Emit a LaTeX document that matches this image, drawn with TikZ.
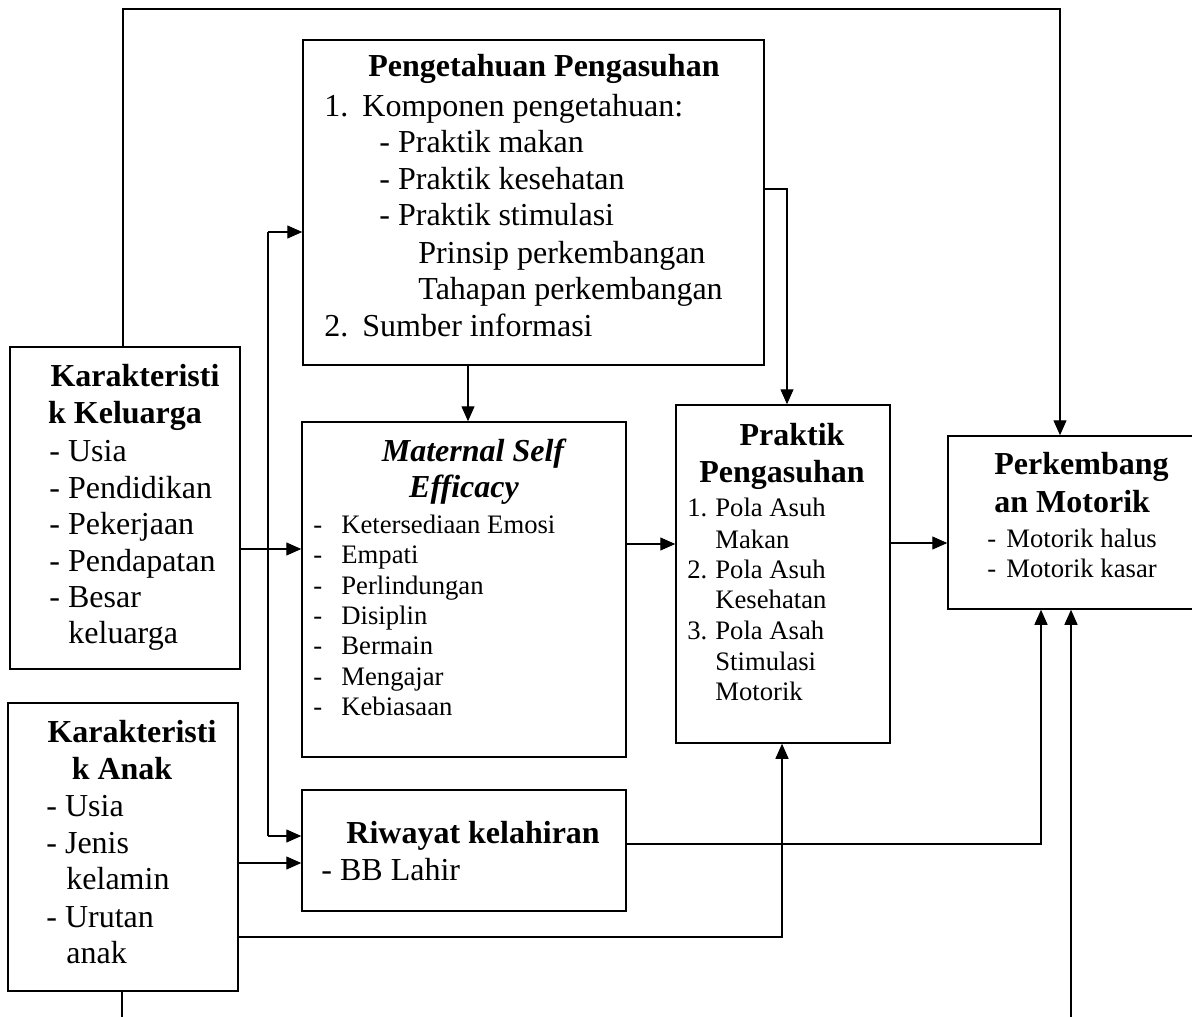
\documentclass[tikz,border=0pt]{standalone}
\usepackage{fontspec}
\setmainfont{Liberation Serif}
\usetikzlibrary{arrows.meta,fit}
\newcommand\bigfnt{\fontsize{16}{18.25}\selectfont}
\newcommand\smallfnt{\fontsize{13.33}{15.2}\selectfont}
\tikzset{
  box/.style={draw, line width=0.75pt, inner sep=0pt, rectangle},
  ln/.style={line width=0.65pt},
  arr/.style={ln, -{Triangle[length=7.5pt,width=6.5pt]}},
  tb/.style={inner sep=0pt, anchor=base west, font=\bigfnt},
  tbb/.style={inner sep=0pt, anchor=base west, font=\bigfnt\bfseries},
  tbc/.style={inner sep=0pt, anchor=base, font=\bigfnt\bfseries},
  ts/.style={inner sep=0pt, anchor=base west, font=\smallfnt},
}
\begin{document}
\begin{tikzpicture}[x=0.5pt,y=-0.5pt]
\useasboundingbox[fill=white] (0,0) rectangle (1192,1016);
% boxes
\node[box, fit={(303,40) (764,365)}] (peng) {};
\node[box, fit={(10,347) (240,669)}] (kel) {};
\node[box, fit={(8,703) (238,991)}] (anak) {};
\node[box, fit={(302,422) (626,757)}] (mse) {};
\node[box, fit={(302,790) (626,911)}] (riw) {};
\node[box, fit={(676,405) (890,743)}] (prak) {};
\node[box, fit={(948,436) (1205,609)}] (perk) {};
% Pengetahuan text
\node[tbc] (pg0) at (544,77) {Pengetahuan Pengasuhan};
\node[tb] (pg1n) at (324,117) {1.};
\node[tb] (pg1) at (362,117) {Komponen pengetahuan:};
\node[tb] (pg2) at (379,153) {- Praktik makan};
\node[tb] (pg3) at (379,190) {- Praktik kesehatan};
\node[tb] (pg4) at (379,226) {- Praktik stimulasi};
\node[tb] (pg5) at (418,263) {Prinsip perkembangan};
\node[tb] (pg6) at (418,299) {Tahapan perkembangan};
\node[tb] (pg7n) at (324,336) {2.};
\node[tb] (pg7) at (362,336) {Sumber informasi};
% Keluarga text
\node[tbc] (kl0) at (135,386) {Karakteristi};
\node[tbc] (kl1) at (125,423) {k Keluarga};
\node[tb] (kl2) at (49,461) {- Usia};
\node[tb] (kl3) at (49,498) {- Pendidikan};
\node[tb] (kl4) at (49,534) {- Pekerjaan};
\node[tb] (kl5) at (49,571) {- Pendapatan};
\node[tb] (kl6) at (49,607) {- Besar};
\node[tb] (kl7) at (68,643) {keluarga};
% Anak text
\node[tbc] (an0) at (132,742) {Karakteristi};
\node[tbc] (an1t) at (122,779) {k Anak};
\node[tb] (an2) at (46,816) {- Usia};
\node[tb] (an3) at (46,853) {- Jenis};
\node[tb] (an4) at (66,889) {kelamin};
\node[tb] (an5) at (46,927) {- Urutan};
\node[tb] (an6) at (66,963) {anak};
% MSE text
\node[tbc, font=\bigfnt\bfseries\itshape] (ms0) at (473,461) {Maternal Self};
\node[tbc, font=\bigfnt\bfseries\itshape] (ms1) at (464,497) {Efficacy};
\node[ts] (ms2d) at (313,533) {-};
\node[ts] (ms2) at (341,533) {Ketersediaan Emosi};
\node[ts] (ms3d) at (313,563) {-};
\node[ts] (ms3) at (341,563) {Empati};
\node[ts] (ms4d) at (313,594) {-};
\node[ts] (ms4) at (341,594) {Perlindungan};
\node[ts] (ms5d) at (313,624) {-};
\node[ts] (ms5) at (341,624) {Disiplin};
\node[ts] (ms6d) at (313,654) {-};
\node[ts] (ms6) at (341,654) {Bermain};
\node[ts] (ms7d) at (313,685) {-};
\node[ts] (ms7) at (341,685) {Mengajar};
\node[ts] (ms8d) at (313,715) {-};
\node[ts] (ms8) at (341,715) {Kebiasaan};
% Praktik text
\node[tbc] (pr0) at (792,445) {Praktik};
\node[tbc] (pr1t) at (782,482) {Pengasuhan};
\node[ts] (pr2n) at (687,516) {1.};
\node[ts] (pr2) at (715,516) {Pola Asuh};
\node[ts] (pr3) at (715,548) {Makan};
\node[ts] (pr4n) at (687,578) {2.};
\node[ts] (pr4) at (715,578) {Pola Asuh};
\node[ts] (pr5) at (715,608) {Kesehatan};
\node[ts] (pr6n) at (687,639) {3.};
\node[ts] (pr6) at (715,639) {Pola Asah};
\node[ts] (pr7) at (715,670) {Stimulasi};
\node[ts] (pr8) at (715,700) {Motorik};
% Perkembangan text
\node[tbb] (pk0) at (994,474) {Perkembang};
\node[tbb] (pk1) at (994,512) {an Motorik};
\node[ts] (pk2d) at (987,547) {-};
\node[ts] (pk2) at (1006,547) {Motorik halus};
\node[ts] (pk3d) at (987,577) {-};
\node[ts] (pk3) at (1006,577) {Motorik kasar};
% Riwayat text
\node[tbb] (rw0) at (346,843) {Riwayat kelahiran};
\node[tb] (rw1t) at (321,880) {- BB Lahir};
% routing coordinates
\coordinate (topL) at (123,9);
\coordinate (topR) at (1060,9);
\coordinate (tr1) at (268,232);
\coordinate (tr2) at (268,836);
\coordinate (ky) at (268,549);
\coordinate (pd) at (468,0);
\coordinate (pr1) at (787,189);
\coordinate (my) at (0,544);
\coordinate (py) at (0,543);
\coordinate (rw1) at (1041,844);
\coordinate (ay1) at (0,863);
\coordinate (an1) at (782,937);
\coordinate (ab) at (122,1030);
\coordinate (rb) at (1071,1030);
% connectors
\draw[arr] (kel.north -| topL) -- (topL) -- (topR) -- (perk.north -| topR);
\draw[arr] (kel.east |- ky) -- (mse.west |- ky);
\draw[ln] (tr1) -- (tr2);
\draw[arr] (tr1) -- (peng.west |- tr1);
\draw[arr] (tr2) -- (riw.west |- tr2);
\draw[arr] (peng.south -| pd) -- (mse.north -| pd);
\draw[arr] (peng.east |- pr1) -- (pr1) -- (prak.north -| pr1);
\draw[arr] (mse.east |- my) -- (prak.west |- my);
\draw[arr] (prak.east |- py) -- (perk.west |- py);
\draw[arr] (riw.east |- rw1) -- (rw1) -- (perk.south -| rw1);
\draw[arr] (anak.east |- ay1) -- (riw.west |- ay1);
\draw[arr] (anak.east |- an1) -- (an1) -- (prak.south -| an1);
\draw[ln] (anak.south -| ab) -- (ab);
\draw[arr] (rb) -- (perk.south -| rb);
\end{tikzpicture}
\end{document}
